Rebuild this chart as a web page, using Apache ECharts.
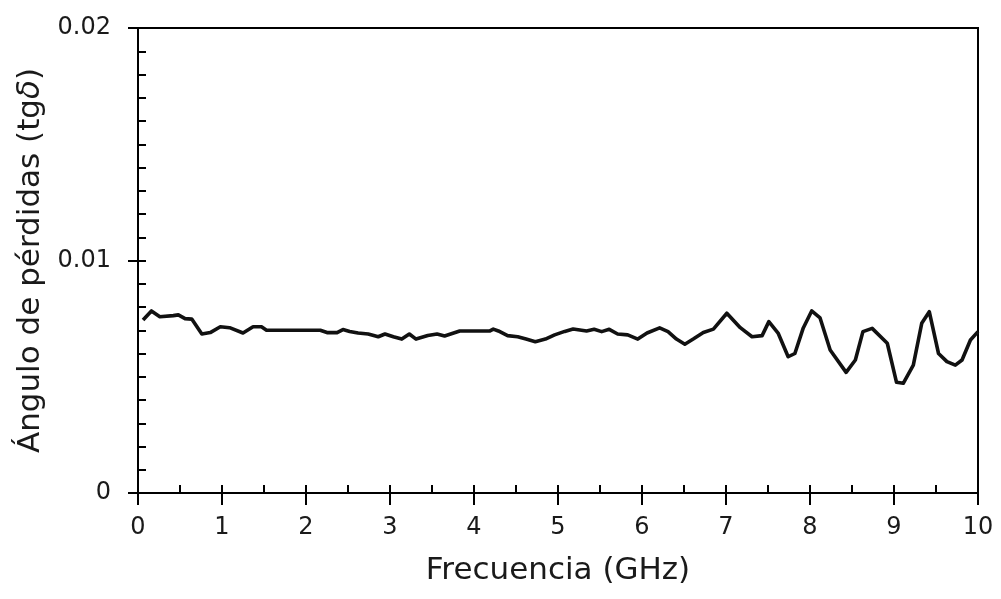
<!DOCTYPE html>
<html>
<head>
<meta charset="utf-8">
<script src="https://cdn.jsdelivr.net/npm/echarts@6/dist/echarts.min.js"></script>
<style>html,body{margin:0;padding:0;background:#fff}#c{width:1001px;height:599px}</style>
</head>
<body>
<div id="c"></div>
<script>
var freqGHz = [0.06, 0.16, 0.26, 0.42, 0.48, 0.56, 0.64, 0.76, 0.86, 0.98, 1.09, 1.25, 1.37, 1.47, 1.53, 1.8, 2.17, 2.25, 2.37, 2.44, 2.52, 2.62, 2.74, 2.86, 2.94, 3.04, 3.14, 3.23, 3.31, 3.45, 3.56, 3.65, 3.83, 4.01, 4.19, 4.23, 4.29, 4.40, 4.52, 4.62, 4.73, 4.85, 4.96, 5.08, 5.18, 5.34, 5.43, 5.52, 5.61, 5.71, 5.83, 5.95, 6.06, 6.21, 6.31, 6.41, 6.51, 6.61, 6.73, 6.85, 7.01, 7.17, 7.31, 7.43, 7.51, 7.62, 7.74, 7.82, 7.92, 8.02, 8.12, 8.24, 8.43, 8.54, 8.63, 8.74, 8.92, 9.03, 9.11, 9.23, 9.33, 9.42, 9.53, 9.63, 9.73, 9.81, 9.91, 10.0];
var tanDelta = [0.00744, 0.00783, 0.00758, 0.00763, 0.00766, 0.0075, 0.00748, 0.00684, 0.0069, 0.00715, 0.00711, 0.00688, 0.00715, 0.00715, 0.0070, 0.0070, 0.0070, 0.0069, 0.0069, 0.00703, 0.00695, 0.00688, 0.00684, 0.00672, 0.00684, 0.00672, 0.00662, 0.00684, 0.00662, 0.00677, 0.00684, 0.00675, 0.00697, 0.00697, 0.00697, 0.00705, 0.00697, 0.00677, 0.00672, 0.00662, 0.00651, 0.00662, 0.0068, 0.00695, 0.00705, 0.00697, 0.00704, 0.00694, 0.00704, 0.00684, 0.0068, 0.00662, 0.00688, 0.0071, 0.00694, 0.00662, 0.0064, 0.00662, 0.0069, 0.00705, 0.00773, 0.00711, 0.00672, 0.00677, 0.00737, 0.00688, 0.00586, 0.006, 0.0071, 0.00783, 0.00753, 0.00615, 0.00519, 0.00572, 0.00694, 0.00708, 0.00644, 0.00476, 0.00472, 0.0055, 0.0073, 0.0078, 0.006, 0.00565, 0.0055, 0.00572, 0.00658, 0.00694];
var xTitle = 'Frecuencia (GHz)';
var yTitleMain = 'Ángulo de pérdidas (tg';
var yTitleSym = 'δ';
var yTickLabels = {0: '0', 0.01: '0.01', 0.02: '0.02'};

var FONT = 'DejaVu Sans';
var TXT = '#1a1a1a';
var chart = echarts.init(document.getElementById('c'), null, {renderer: 'canvas'});
var pts = freqGHz.map(function (f, i) { return [f, tanDelta[i]]; });

chart.setOption({
  animation: false,
  backgroundColor: '#fff',
  grid: {left: 138, right: 23, top: 28, bottom: 106, show: true, borderColor: '#000', borderWidth: 2, backgroundColor: 'transparent'},
  xAxis: [{
    type: 'value', position: 'bottom', min: 0, max: 10, interval: 1,
    axisLine: {show: true, lineStyle: {color: '#000', width: 2}},
    axisTick: {show: true, inside: false, length: 12, lineStyle: {color: '#000', width: 2}},
    splitLine: {show: false},
    axisLabel: {margin: 23, fontFamily: FONT, fontSize: 24, color: TXT},
    name: xTitle, nameLocation: 'middle', nameGap: 62,
    nameTextStyle: {fontFamily: FONT, fontSize: 31, color: TXT}
  }, {
    type: 'value', position: 'bottom', min: 0, max: 10, interval: 1,
    axisLine: {show: false},
    axisTick: {show: true, inside: true, length: 8, lineStyle: {color: '#000', width: 2}},
    minorTick: {show: true, splitNumber: 2, length: 8, lineStyle: {color: '#000', width: 2}},
    splitLine: {show: false},
    axisLabel: {show: false}
  }],
  yAxis: [{
    type: 'value', position: 'left', min: 0, max: 0.02, interval: 0.01,
    axisLine: {show: true, lineStyle: {color: '#000', width: 2}},
    axisTick: {show: true, inside: false, length: 10, lineStyle: {color: '#000', width: 2}},
    splitLine: {show: false},
    axisLabel: {margin: 27, fontFamily: FONT, fontSize: 24, color: TXT,
      formatter: function (v) { var k = Math.round(v * 100) / 100; return yTickLabels[k] !== undefined ? yTickLabels[k] : ''; }},
    name: '{m|' + yTitleMain + '}{s|' + yTitleSym + '}{m|)}', nameLocation: 'middle', nameGap: 80,
    nameTextStyle: {fontFamily: FONT, fontSize: 31, color: TXT,
      rich: {m: {fontFamily: FONT, fontSize: 31, color: TXT}, s: {fontFamily: FONT, fontSize: 31, fontStyle: 'italic', color: TXT}}}
  }, {
    type: 'value', position: 'left', min: 0, max: 0.02, interval: 0.01,
    axisLine: {show: false},
    axisTick: {show: true, inside: true, length: 8, lineStyle: {color: '#000', width: 2}},
    minorTick: {show: true, splitNumber: 10, length: 8, lineStyle: {color: '#000', width: 2}},
    splitLine: {show: false},
    axisLabel: {show: false}
  }],
  series: [{
    type: 'line', xAxisIndex: 0, yAxisIndex: 0, data: pts,
    showSymbol: false, symbol: 'none', smooth: false,
    lineStyle: {color: '#111', width: 3.6, join: 'round'}
  }]
});
</script>
</body>
</html>
